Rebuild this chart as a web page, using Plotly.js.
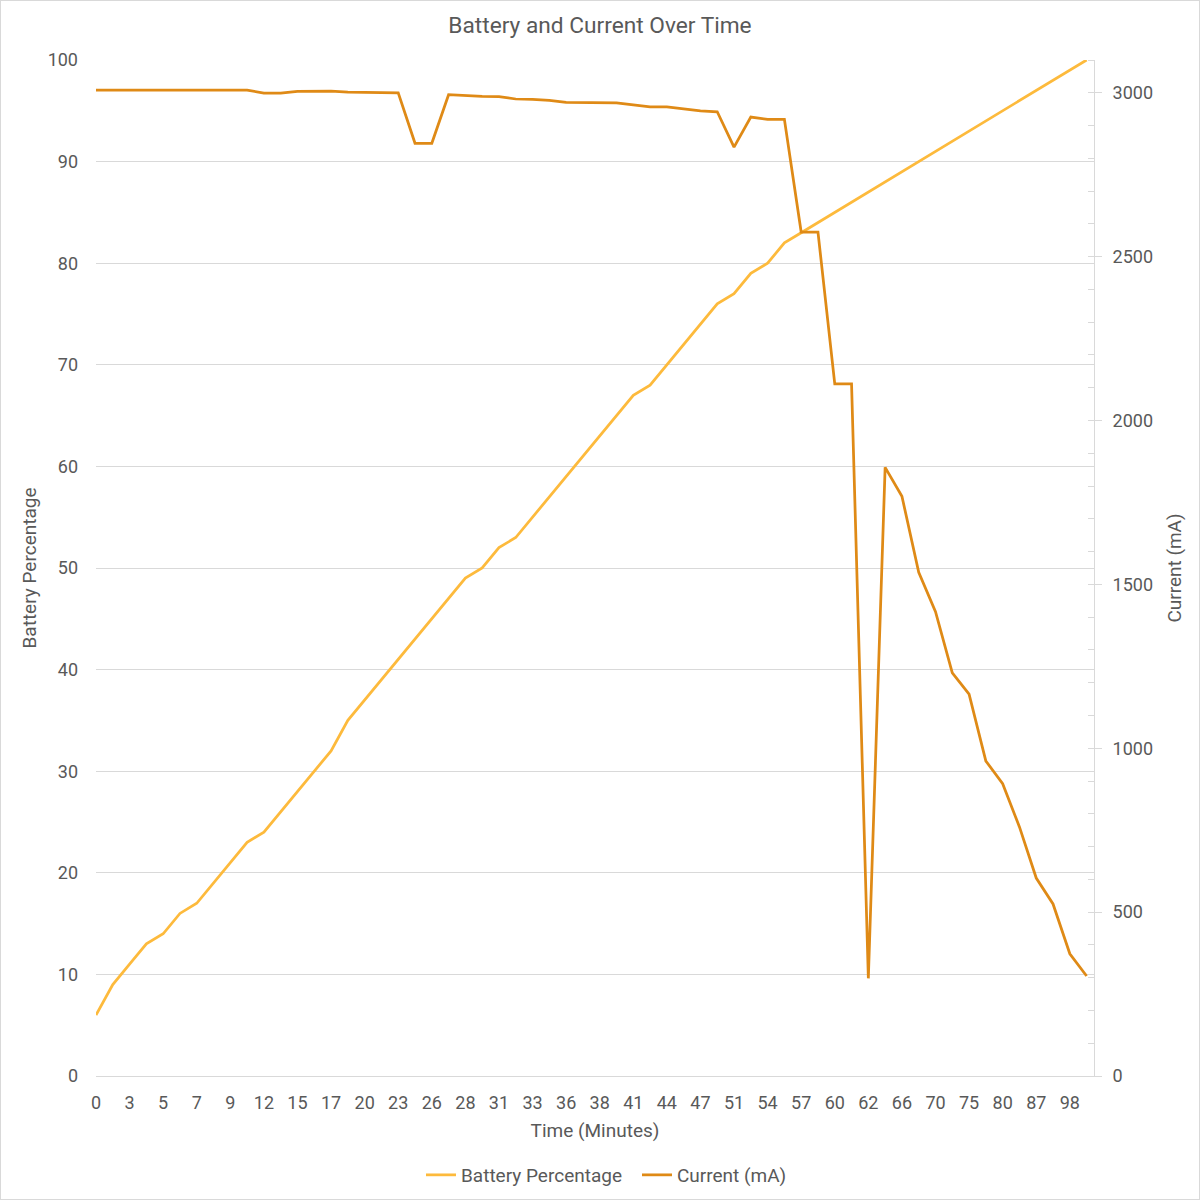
<!DOCTYPE html>
<html>
<head>
<meta charset="utf-8">
<script src="https://cdn.plot.ly/plotly-3.0.1.min.js"></script>
<style>
html,body{margin:0;padding:0;background:#fff;}
#chart{position:absolute;left:0;top:0;width:1200px;height:1200px;box-sizing:border-box;border:1px solid #d9d9d9;}
</style>
</head>
<body>
<div id="chart"></div>
<script>
// Time categories (minutes) - every other one is labelled on the axis
const timeMinutes = ["0","1","3","4","5","6","7","8","9","10",
  "12","13","15","16","17","18","20","21","23","24",
  "26","27","28","29","31","32","33","34","36","37",
  "38","39","41","42","44","45","47","49","51","52",
  "54","55","57","58","60","61","62","64","66","68",
  "70","72","75","77","80","83","87","92","98","100"];

const batteryPct = [6,9,11,13,14,16,17,19,21,23,
  24,26,28,30,32,35,37,39,41,43,
  45,47,49,50,52,53,55,57,59,61,
  63,65,67,68,70,72,74,76,77,79,
  80,82,83,84,85,86,87,88,89,90,
  91,92,93,94,95,96,97,98,99,100];

const currentMA = [3008,3008,3008,3008,3008,3008,3008,3008,3008,3008,
  2999,2999,3004,3005,3005,3002,3002,3000,3000,2846,
  2846,2994,2991,2989,2988,2981,2980,2977,2971,2971,
  2969,2969,2963,2957,2957,2951,2945,2942,2834,2926,
  2919,2919,2575,2575,2112,2112,298,1857,1769,1537,
  1417,1230,1165,961,892,760,604,525,373,305];

const seriesNames = ["Battery Percentage", "Current (mA)"];
const seriesColors = ["#FDBA3C", "#DF8A16"];

const textColor = "#595959";
const gridColor = "#d9d9d9";
const fontFamily = "Roboto, 'Open Sans', sans-serif";

const xRangeMax = timeMinutes.length - 1 + 0.44;

const traces = [
  {
    type: "scatter", mode: "lines",
    x: timeMinutes, y: batteryPct,
    name: seriesNames[0],
    line: {color: seriesColors[0], width: 2.75},
    xaxis: "x", yaxis: "y"
  },
  {
    type: "scatter", mode: "lines",
    x: timeMinutes, y: currentMA,
    name: seriesNames[1],
    line: {color: seriesColors[1], width: 2.75},
    xaxis: "x", yaxis: "y2"
  }
];

const layout = {
  width: 1198, height: 1198, autosize: false,
  paper_bgcolor: "#ffffff", plot_bgcolor: "#ffffff",
  font: {family: fontFamily, color: textColor, size: 18},
  margin: {l: 95, r: 105, t: 59, b: 123, pad: 0, autoexpand: false},
  title: {
    text: "Battery and Current Over Time",
    font: {size: 22.7, color: textColor, family: fontFamily},
    x: 0.5, xref: "container", xanchor: "center",
    y: 1 - 24/1198, yref: "container", yanchor: "middle"
  },
  xaxis: {
    type: "category",
    range: [0, xRangeMax],
    tickmode: "linear", tick0: 0, dtick: 2,
    ticks: "", showgrid: false, zeroline: false,
    showline: true, linecolor: gridColor, linewidth: 1,
    tickfont: {size: 18, color: textColor},
    ticklabelstandoff: 10,
    automargin: false,
    title: {text: "Time (Minutes)", font: {size: 19, color: textColor}, standoff: 12},
    fixedrange: true
  },
  xaxis2: {
    type: "linear",
    overlaying: "x", anchor: "y", side: "bottom",
    range: [0, xRangeMax],
    tickmode: "linear", tick0: 0, dtick: 5,
    ticks: "inside", ticklen: 5, tickcolor: gridColor, tickwidth: 1,
    showticklabels: false, showgrid: false, zeroline: false, showline: false,
    automargin: false
  },
  yaxis: {
    range: [0, 100], tickmode: "linear", tick0: 0, dtick: 10,
    showgrid: true, gridcolor: gridColor, gridwidth: 1,
    zeroline: false, showline: false, ticks: "",
    tickfont: {size: 18, color: textColor},
    ticklabelstandoff: 17,
    automargin: false,
    title: {text: "Battery Percentage", font: {size: 19, color: textColor}, standoff: 5}
  },
  yaxis2: {
    overlaying: "y", side: "right", anchor: "x",
    range: [0, 3100], tickmode: "linear", tick0: 0, dtick: 500,
    showgrid: false, zeroline: false,
    showline: true, linecolor: gridColor, linewidth: 1,
    ticks: "outside", ticklen: 7, tickcolor: gridColor, tickwidth: 1,
    minor: {dtick: 100, tick0: 0, ticks: "inside", ticklen: 6, tickcolor: gridColor, tickwidth: 1, showgrid: false},
    tickfont: {size: 18, color: textColor},
    ticklabelstandoff: 7,
    automargin: false,
    title: {text: "Current (mA)", font: {size: 19, color: textColor}, standoff: 15}
  },
  showlegend: true,
  legend: {
    orientation: "h",
    x: (421 - 96) / 998, xanchor: "left",
    y: 1 - 1174/1198, yref: "container", yanchor: "middle",
    entrywidth: 171, entrywidthmode: "pixels",
    font: {size: 19, color: textColor},
    bgcolor: "rgba(0,0,0,0)", itemwidth: 30
  }
};

Plotly.newPlot("chart", traces, layout, {displayModeBar: false, staticPlot: true});
</script>
</body>
</html>
